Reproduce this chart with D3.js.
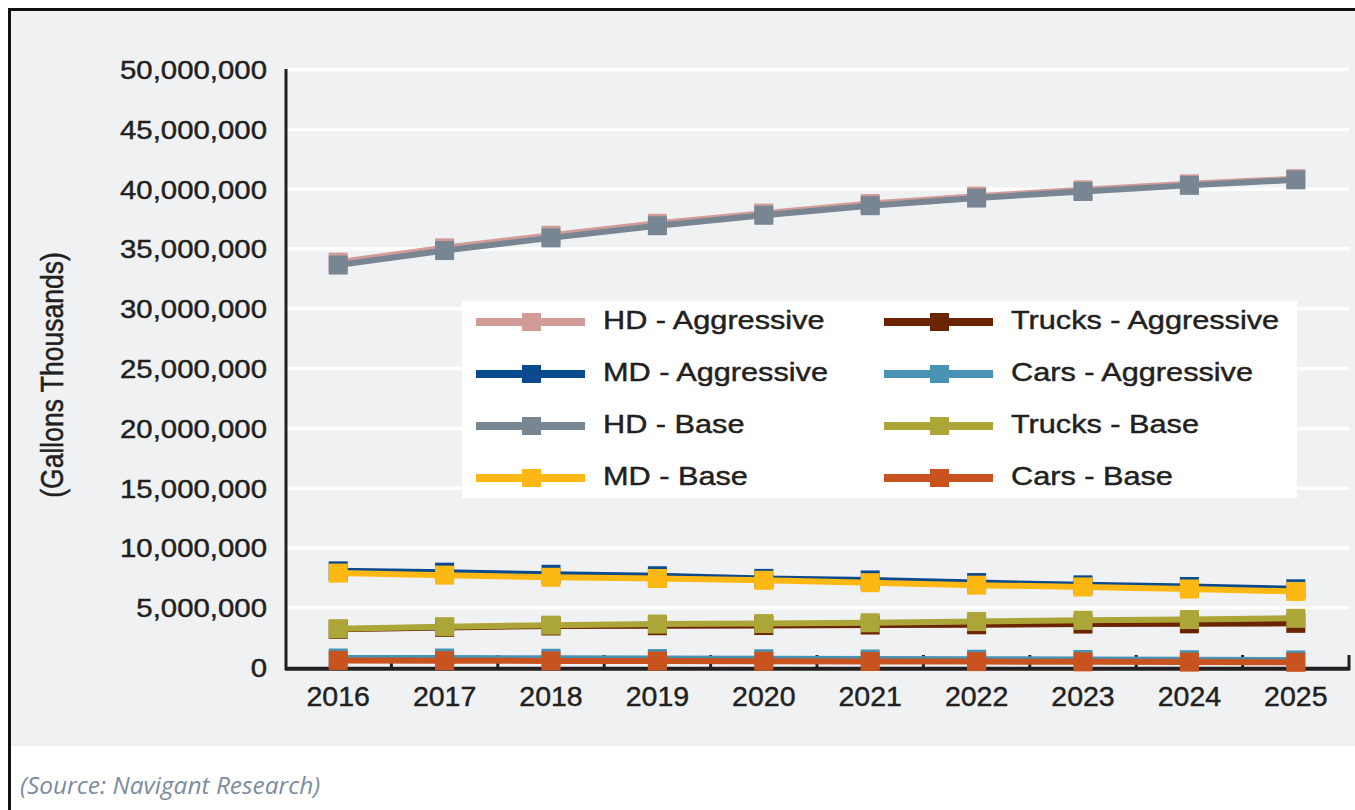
<!DOCTYPE html>
<html>
<head>
<meta charset="utf-8">
<script src="https://cdn.jsdelivr.net/npm/d3@7/dist/d3.min.js"></script>
<style>
    body { margin: 0; background: #fff; }
    svg { display: block; font-family: "Liberation Sans", Arial, sans-serif; }
    .lbl { stroke: #231f20; stroke-width: 0.45px; }
</style>
</head>
<body>
<svg id="chart" width="1355" height="810"></svg>
<script>
// values, in gallons (thousands)
var years = ["2016", "2017", "2018", "2019", "2020", "2021", "2022", "2023", "2024", "2025"];
var hdAggressive = [33.9e6, 35.1e6, 36.15e6, 37.15e6, 38.0e6, 38.8e6, 39.42e6, 39.95e6, 40.45e6, 40.88e6];
var mdAggressive = [8.09e6, 7.98e6, 7.8e6, 7.68e6, 7.46e6, 7.33e6, 7.11e6, 6.92e6, 6.78e6, 6.59e6];
var hdBase = [33.66e6, 34.87e6, 35.93e6, 36.95e6, 37.82e6, 38.62e6, 39.26e6, 39.81e6, 40.32e6, 40.78e6];
var mdBase = [7.9e6, 7.73e6, 7.55e6, 7.45e6, 7.3e6, 7.1e6, 6.89e6, 6.74e6, 6.57e6, 6.37e6];
var trucksAggressive = [3.2e6, 3.36e6, 3.48e6, 3.5e6, 3.52e6, 3.56e6, 3.58e6, 3.64e6, 3.66e6, 3.7e6];
var carsAggressive = [0.8e6, 0.8e6, 0.78e6, 0.76e6, 0.74e6, 0.72e6, 0.7e6, 0.68e6, 0.66e6, 0.64e6];
var trucksBase = [3.25e6, 3.42e6, 3.55e6, 3.64e6, 3.68e6, 3.75e6, 3.85e6, 3.95e6, 4.02e6, 4.12e6];
var carsBase = [0.6e6, 0.58e6, 0.56e6, 0.55e6, 0.53e6, 0.51e6, 0.5e6, 0.48e6, 0.46e6, 0.44e6];

var seriesNames = ["HD - Aggressive", "MD - Aggressive", "HD - Base", "MD - Base",
    "Trucks - Aggressive", "Cars - Aggressive", "Trucks - Base", "Cars - Base"];
var seriesColors = ["#d19c98", "#0b4a8e", "#788592", "#fdb813",
    "#6b2400", "#4892b4", "#aba637", "#c9531f"];
var yTicks = [0, 5e6, 10e6, 15e6, 20e6, 25e6, 30e6, 35e6, 40e6, 45e6, 50e6];

var series = [hdAggressive, mdAggressive, hdBase, mdBase, trucksAggressive, carsAggressive, trucksBase, carsBase]
    .map(function (vals, i) {
        return {name: seriesNames[i], color: seriesColors[i], values: vals};
    });

var svg = d3.select("#chart");
var ink = "#231f20";

// frame and panel
svg.append("rect").attr("x", 11).attr("y", 11).attr("width", 1344).attr("height", 735).attr("fill", "#f0f1f3");
svg.append("line").attr("x1", 8).attr("x2", 1355).attr("y1", 9.5).attr("y2", 9.5)
    .attr("stroke", "#111").attr("stroke-width", 3);
svg.append("line").attr("x1", 9.5).attr("x2", 9.5).attr("y1", 8).attr("y2", 810)
    .attr("stroke", "#111").attr("stroke-width", 3);

var x = d3.scaleBand().domain(years).range([285, 1349]).padding(0);
var y = d3.scaleLinear().domain([0, 50e6]).range([667.6, 69.6]);
var cx = function (yr) { return x(yr) + x.bandwidth() / 2; };

//Grid
svg.append("g").selectAll("line")
    .data(yTicks.filter(function (d) { return d > 0; }))
    .join("line")
    .attr("x1", 287).attr("x2", 1349)
    .attr("y1", function (d) { return y(d); }).attr("y2", function (d) { return y(d); })
    .attr("stroke", "#fff").attr("stroke-width", 3.5);

//Y tick labels
svg.append("g").selectAll("text")
    .data(yTicks)
    .join("text")
    .attr("class", "lbl")
    .attr("transform", function (d) { return "translate(267," + y(d) + ") scale(1.13,1)"; })
    .attr("dy", "0.36em")
    .attr("text-anchor", "end")
    .attr("font-size", 26)
    .attr("fill", ink)
    .text(d3.format(","));

//Y title
svg.append("text")
    .attr("class", "lbl")
    .attr("transform", "translate(63,375) scale(1.15,1) rotate(-90)")
    .attr("text-anchor", "middle")
    .attr("font-size", 26.5)
    .attr("fill", ink)
    .text("(Gallons Thousands)");

//Axes lines
svg.append("line").attr("x1", 286).attr("x2", 286).attr("y1", 69).attr("y2", 670)
    .attr("stroke", ink).attr("stroke-width", 3);
svg.append("line").attr("x1", 285).attr("x2", 1350).attr("y1", 668.7).attr("y2", 668.7)
    .attr("stroke", ink).attr("stroke-width", 4);
svg.append("g").selectAll("line")
    .data(years)
    .join("line")
    .attr("x1", function (d) { return x(d) + x.bandwidth(); })
    .attr("x2", function (d) { return x(d) + x.bandwidth(); })
    .attr("y1", 670).attr("y2", 655)
    .attr("stroke", ink).attr("stroke-width", 3);

//X tick labels
svg.append("g").selectAll("text")
    .data(years)
    .join("text")
    .attr("class", "lbl")
    .attr("x", cx)
    .attr("y", 706)
    .attr("text-anchor", "middle")
    .attr("font-size", 28.5)
    .attr("fill", ink)
    .text(function (d) { return d; });

//Series
var line = d3.line()
    .x(function (d, i) { return cx(years[i]); })
    .y(function (d) { return y(d); });

var sg = svg.append("g").selectAll("g")
    .data(series)
    .join("g");

sg.append("path")
    .attr("d", function (s) { return line(s.values); })
    .attr("fill", "none")
    .attr("stroke", function (s) { return s.color; })
    .attr("stroke-width", 6);

sg.selectAll("rect")
    .data(function (s) { return s.values.map(function (v, i) { return {v: v, yr: years[i], color: s.color}; }); })
    .join("rect")
    .attr("x", function (d) { return cx(d.yr) - 9.5; })
    .attr("y", function (d) { return y(d.v) - 9.5; })
    .attr("width", 19).attr("height", 19)
    .attr("fill", function (d) { return d.color; });

//Legend
svg.append("rect").attr("x", 462).attr("y", 301).attr("width", 835).attr("height", 197).attr("fill", "#fff");

var lg = svg.append("g").selectAll("g")
    .data(series)
    .join("g")
    .attr("transform", function (s, i) {
        return "translate(" + (i < 4 ? 476 : 884) + "," + (322 + (i % 4) * 52) + ")";
    });

lg.append("line").attr("x1", 0).attr("x2", 109).attr("y1", 0).attr("y2", 0)
    .attr("stroke", function (s) { return s.color; }).attr("stroke-width", 8);
lg.append("rect").attr("x", 46).attr("y", -9).attr("width", 19).attr("height", 18)
    .attr("fill", function (s) { return s.color; });
lg.append("text")
    .attr("class", "lbl")
    .attr("transform", "translate(127,6.5) scale(1.18,1)")
    .attr("font-size", 26)
    .attr("fill", ink)
    .text(function (s) { return s.name; });

//Source
svg.append("text")
    .attr("transform", "translate(20,794) scale(1.04,1)")
    .attr("font-family", "'Open Sans', Lato, sans-serif")
    .attr("font-style", "italic")
    .attr("font-size", 23.5)
    .attr("fill", "#7b8c9f")
    .text("(Source: Navigant Research)");
</script>
</body>
</html>
